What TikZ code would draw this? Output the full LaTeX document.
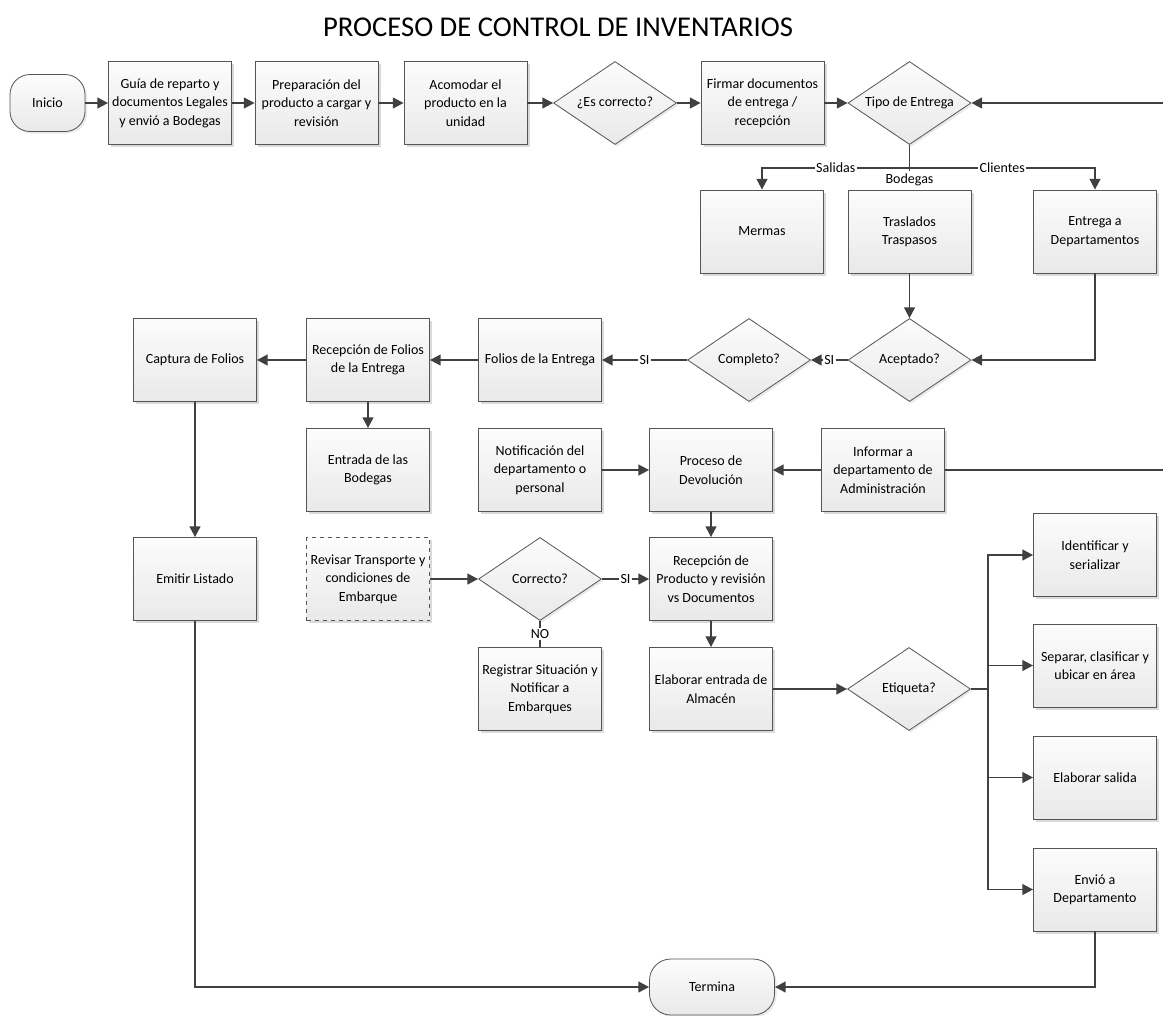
\documentclass[tikz,border=0pt]{standalone}
\usepackage{fontspec}
\setmainfont{Carlito}
\usetikzlibrary{shapes.geometric,arrows.meta,shadows,calc}

\definecolor{edgec}{HTML}{555555}
\definecolor{linec}{HTML}{404040}
\definecolor{boxtop}{HTML}{FCFCFC}
\definecolor{boxbot}{HTML}{E9E9E9}
\definecolor{shadowc}{HTML}{DADADA}

\begin{document}
\begin{tikzpicture}[x=0.75pt,y=-0.75pt,
  base/.style={draw=edgec, line width=0.6pt, top color=boxtop, bottom color=boxbot,
    font=\fontsize{10.5}{13.8}\selectfont, align=center},
  proc/.style={base, rectangle, minimum width=92.25pt, minimum height=62.25pt,
    inner sep=1pt,
    drop shadow={shadow xshift=2pt, shadow yshift=-2pt, fill=shadowc, opacity=1}},
  decide/.style={base, diamond, shape aspect=1.48, minimum width=92.25pt,
    minimum height=62.25pt, inner sep=0pt,
    drop shadow={shadow xshift=1.5pt, shadow yshift=-1.5pt, fill=shadowc, opacity=0.6}},
  term/.style={base, rectangle, rounded corners=15pt, inner sep=0pt,
    drop shadow={shadow xshift=1.5pt, shadow yshift=-1.5pt, fill=shadowc, opacity=0.6}},
  lbl/.style={fill=white, inner sep=1pt, font=\fontsize{10.5}{13.8}\selectfont},
  line/.style={draw=linec, line width=1.4pt},
  arr/.style={line, -{Triangle[length=8pt,width=8pt]}}
]
\useasboundingbox (0,0) rectangle (1163,1015);

\node[font=\fontsize{21.5}{26}\selectfont] (title) at (558,27) {PROCESO DE CONTROL DE INVENTARIOS};

% top row
\node[term, minimum width=56.25pt, minimum height=42.75pt] (inicio) at (47.5,103) {Inicio};
\node[proc] (guia) at (170,103) {Guía de reparto y\\documentos Legales\\y envió a Bodegas};
\node[proc] (prep) at (316.5,103) {Preparación del\\producto a cargar y\\revisión};
\node[proc] (acom) at (465.5,103) {Acomodar el\\producto en la\\unidad};
\node[decide] (escor) at (615,103) {¿Es correcto?};
\node[proc] (firmar) at (762.5,103) {Firmar documentos\\de entrega /\\recepción};
\node[decide] (tipo) at (909.5,103) {Tipo de Entrega};

% delivery types
\node[proc] (mermas) at (762,231.5) {Mermas};
\node[proc] (trasl) at (909.5,231.5) {Traslados\\Traspasos};
\node[proc] (entrega) at (1095,231.5) {Entrega a\\Departamentos};

% acceptance row
\node[proc] (captura) at (195,360) {Captura de Folios};
\node[proc] (recfol) at (368,360) {Recepción de Folios\\de la Entrega};
\node[proc] (folios) at (540,360) {Folios de la Entrega};
\node[decide] (completo) at (749,360) {Completo?};
\node[decide] (aceptado) at (909.5,360) {Aceptado?};

% returns row
\node[proc] (entrada) at (368,470) {Entrada de las\\Bodegas};
\node[proc] (notif) at (540,470) {Notificación del\\departamento o\\personal};
\node[proc] (proceso) at (711,470) {Proceso de\\Devolución};
\node[proc] (informar) at (883,470) {Informar a\\departamento de\\Administración};

% reception rows
\node[proc] (emitir) at (195,579) {Emitir Listado};
\node[proc, dashed] (revisar) at (368,579) {Revisar Transporte y\\condiciones de\\Embarque};
\node[decide] (correcto) at (540,579) {Correcto?};
\node[proc] (recprod) at (711,579) {Recepción de\\Producto y revisión\\vs Documentos};
\node[proc] (registrar) at (540,689) {Registrar Situación y\\Notificar a\\Embarques};
\node[proc] (elabent) at (711,689) {Elaborar entrada de\\Almacén};
\node[decide] (etiqueta) at (909,689) {Etiqueta?};

% label branch
\node[proc] (ident) at (1095,555) {Identificar y\\serializar};
\node[proc] (separar) at (1095,665.5) {Separar, clasificar y\\ubicar en área};
\node[proc] (salida) at (1095,777.5) {Elaborar salida};
\node[proc] (envio) at (1095,889.5) {Envió a\\Departamento};

\node[term, minimum width=93.75pt, minimum height=42pt, rounded corners=16pt] (termina) at (712,987) {Termina};

% helper points
\coordinate (br) at (909.5,168);
\coordinate (rt1) at (1163,103);
\coordinate (rt2) at (1163,470);
\coordinate (bus) at (988,689);

% top row flow
\draw[arr] (inicio) -- (guia);
\draw[arr] (guia) -- (prep);
\draw[arr] (prep) -- (acom);
\draw[arr] (acom) -- (escor);
\draw[arr] (escor) -- (firmar);
\draw[arr] (firmar) -- (tipo);
\draw[arr] (rt1) -- (tipo.east);

% delivery branches
\node[lbl, inner ysep=2pt] (bodegas) at (909.5,180) {Bodegas};
\draw[line] (tipo.south) -- (br);
\draw[arr] (br) -| node[lbl, pos=0.25] {Salidas} (mermas.north);
\draw[arr] (br) -| node[lbl, pos=0.25] {Clientes} (entrega.north);
\draw[line] (br) -- (bodegas);

% acceptance
\draw[arr] (trasl.south) -- (aceptado.north);
\draw[arr] (entrega.south) |- (aceptado.east);
\draw[arr] (aceptado.west) -- node[lbl] {SI} (completo.east);
\draw[arr] (completo.west) -- node[lbl] {SI} (folios.east);
\draw[arr] (folios) -- (recfol);
\draw[arr] (recfol) -- (captura);
\draw[arr] (recfol.south) -- (entrada.north);
\draw[arr] (captura.south) -- (emitir.north);
\draw[arr] (emitir.south) |- (termina.west);

% returns
\draw[arr] (notif) -- (proceso);
\draw[arr] (informar) -- (proceso);
\draw[line] (informar.east) -- (rt2);
\draw[arr] (proceso.south) -- (recprod.north);
\draw[arr] (revisar) -- (correcto);
\draw[arr] (correcto.east) -- node[lbl] {SI} (recprod.west);
\draw[line] (correcto.south) -- node[lbl] {NO} (registrar.north);
\draw[arr] (recprod.south) -- (elabent.north);
\draw[arr] (elabent) -- (etiqueta);

% label outcomes
\draw[line] (etiqueta.east) -- (bus);
\draw[arr] (bus) |- (ident.west);
\draw[arr] (bus) |- (separar.west);
\draw[arr] (bus) |- (salida.west);
\draw[arr] (bus) |- (envio.west);
\draw[arr] (envio.south) |- (termina.east);
\end{tikzpicture}
\end{document}
